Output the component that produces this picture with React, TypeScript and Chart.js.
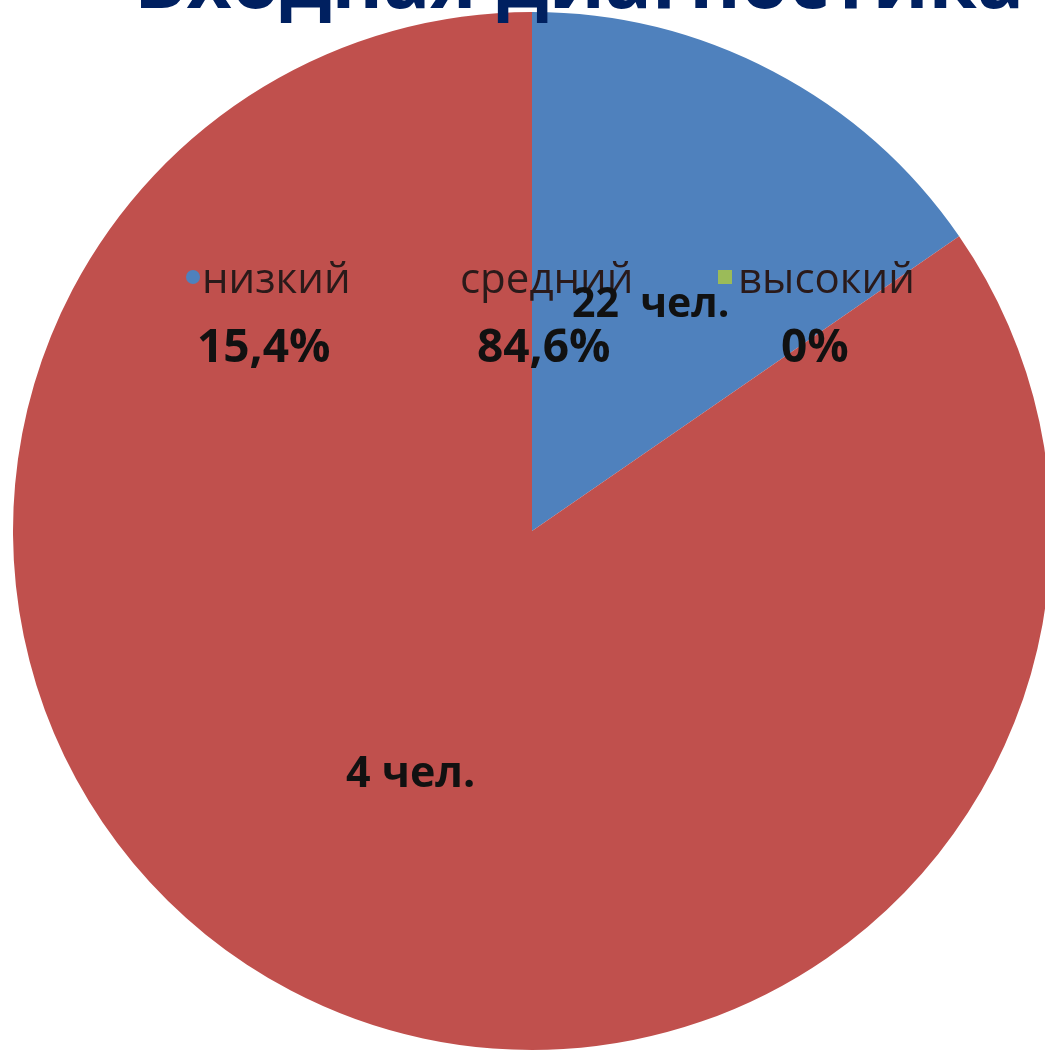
import React, { useEffect, useRef } from "react";
import { Chart, registerables } from "chart.js";

Chart.register(...registerables);

const TITLE = "Входная диагностика";
const CATEGORIES = ["низкий", "средний", "высокий"];
const VALUES = [4, 22, 0];
const COLORS = ["#4F81BD", "#C0504D", "#9BBB59"];
const COUNT_LABELS = ["22  чел.", "4 чел."];

const FONT = "'Open Sans', 'DejaVu Sans', sans-serif";

function pct(v: number, total: number): string {
  if (v === 0) return "0%";
  return (Math.round((v / total) * 1000) / 10).toFixed(1).replace(".", ",") + "%";
}

const overlayPlugin = {
  id: "overlay",
  afterDraw(chart: any) {
    const ctx = chart.ctx as CanvasRenderingContext2D;
    const total = VALUES.reduce((a, b) => a + b, 0);
    ctx.save();
    // title (cut off at top)
    ctx.fillStyle = "#002060";
    ctx.font = `bold 78px ${FONT}`;
    ctx.textAlign = "center";
    ctx.textBaseline = "alphabetic";
    ctx.fillText(TITLE, 579, 8);

    // legend
    const legendX = [202, 460, 738];
    ctx.textBaseline = "middle";
    ctx.textAlign = "left";
    CATEGORIES.forEach((c, i) => {
      ctx.fillStyle = COLORS[i];
      if (i === 0) {
        ctx.beginPath();
        ctx.arc(legendX[i] - 9, 277, 7, 0, Math.PI * 2);
        ctx.fill();
      } else {
        ctx.fillRect(legendX[i] - 20, 270, 14, 14);
      }
      ctx.fillStyle = "#2a1a1a";
      ctx.font = `42px ${FONT}`;
      ctx.fillText(c, legendX[i], 281);
      ctx.fillStyle = "#111";
      ctx.font = `bold 46px ${FONT}`;
      ctx.fillText(pct(VALUES[i], total), [197, 477, 781][i], 349);
    });

    // count labels
    ctx.fillStyle = "#111";
    ctx.font = `bold 41px ${FONT}`;
    ctx.fillText(COUNT_LABELS[0], 572, 305);
    ctx.font = `bold 43px ${FONT}`;
    ctx.fillText(COUNT_LABELS[1], 346, 775);
    ctx.restore();
  },
};

export default function App() {
  const ref = useRef<HTMLCanvasElement>(null);
  useEffect(() => {
    document.documentElement.style.overflow = "hidden";
    document.body.style.margin = "0";
    document.body.style.overflow = "hidden";
    const chart = new Chart(ref.current!, {
      type: "pie",
      data: {
        labels: CATEGORIES,
        datasets: [
          {
            data: VALUES,
            backgroundColor: COLORS,
            borderWidth: 0,
          },
        ],
      },
      options: {
        animation: false,
        responsive: false,
        devicePixelRatio: 1,
        layout: { padding: { left: 13, right: 5, top: 11, bottom: 3 } },
        plugins: {
          legend: { display: false },
          tooltip: { enabled: false },
          title: { display: false },
        },
      },
      plugins: [overlayPlugin],
    });
    return () => chart.destroy();
  }, []);
  return (
    <div style={{ position: "fixed", left: 0, top: 0, width: 1056, height: 1054, background: "#fff" }}>
      <canvas ref={ref} width={1056} height={1054} style={{ width: 1056, height: 1054 }} />
    </div>
  );
}
